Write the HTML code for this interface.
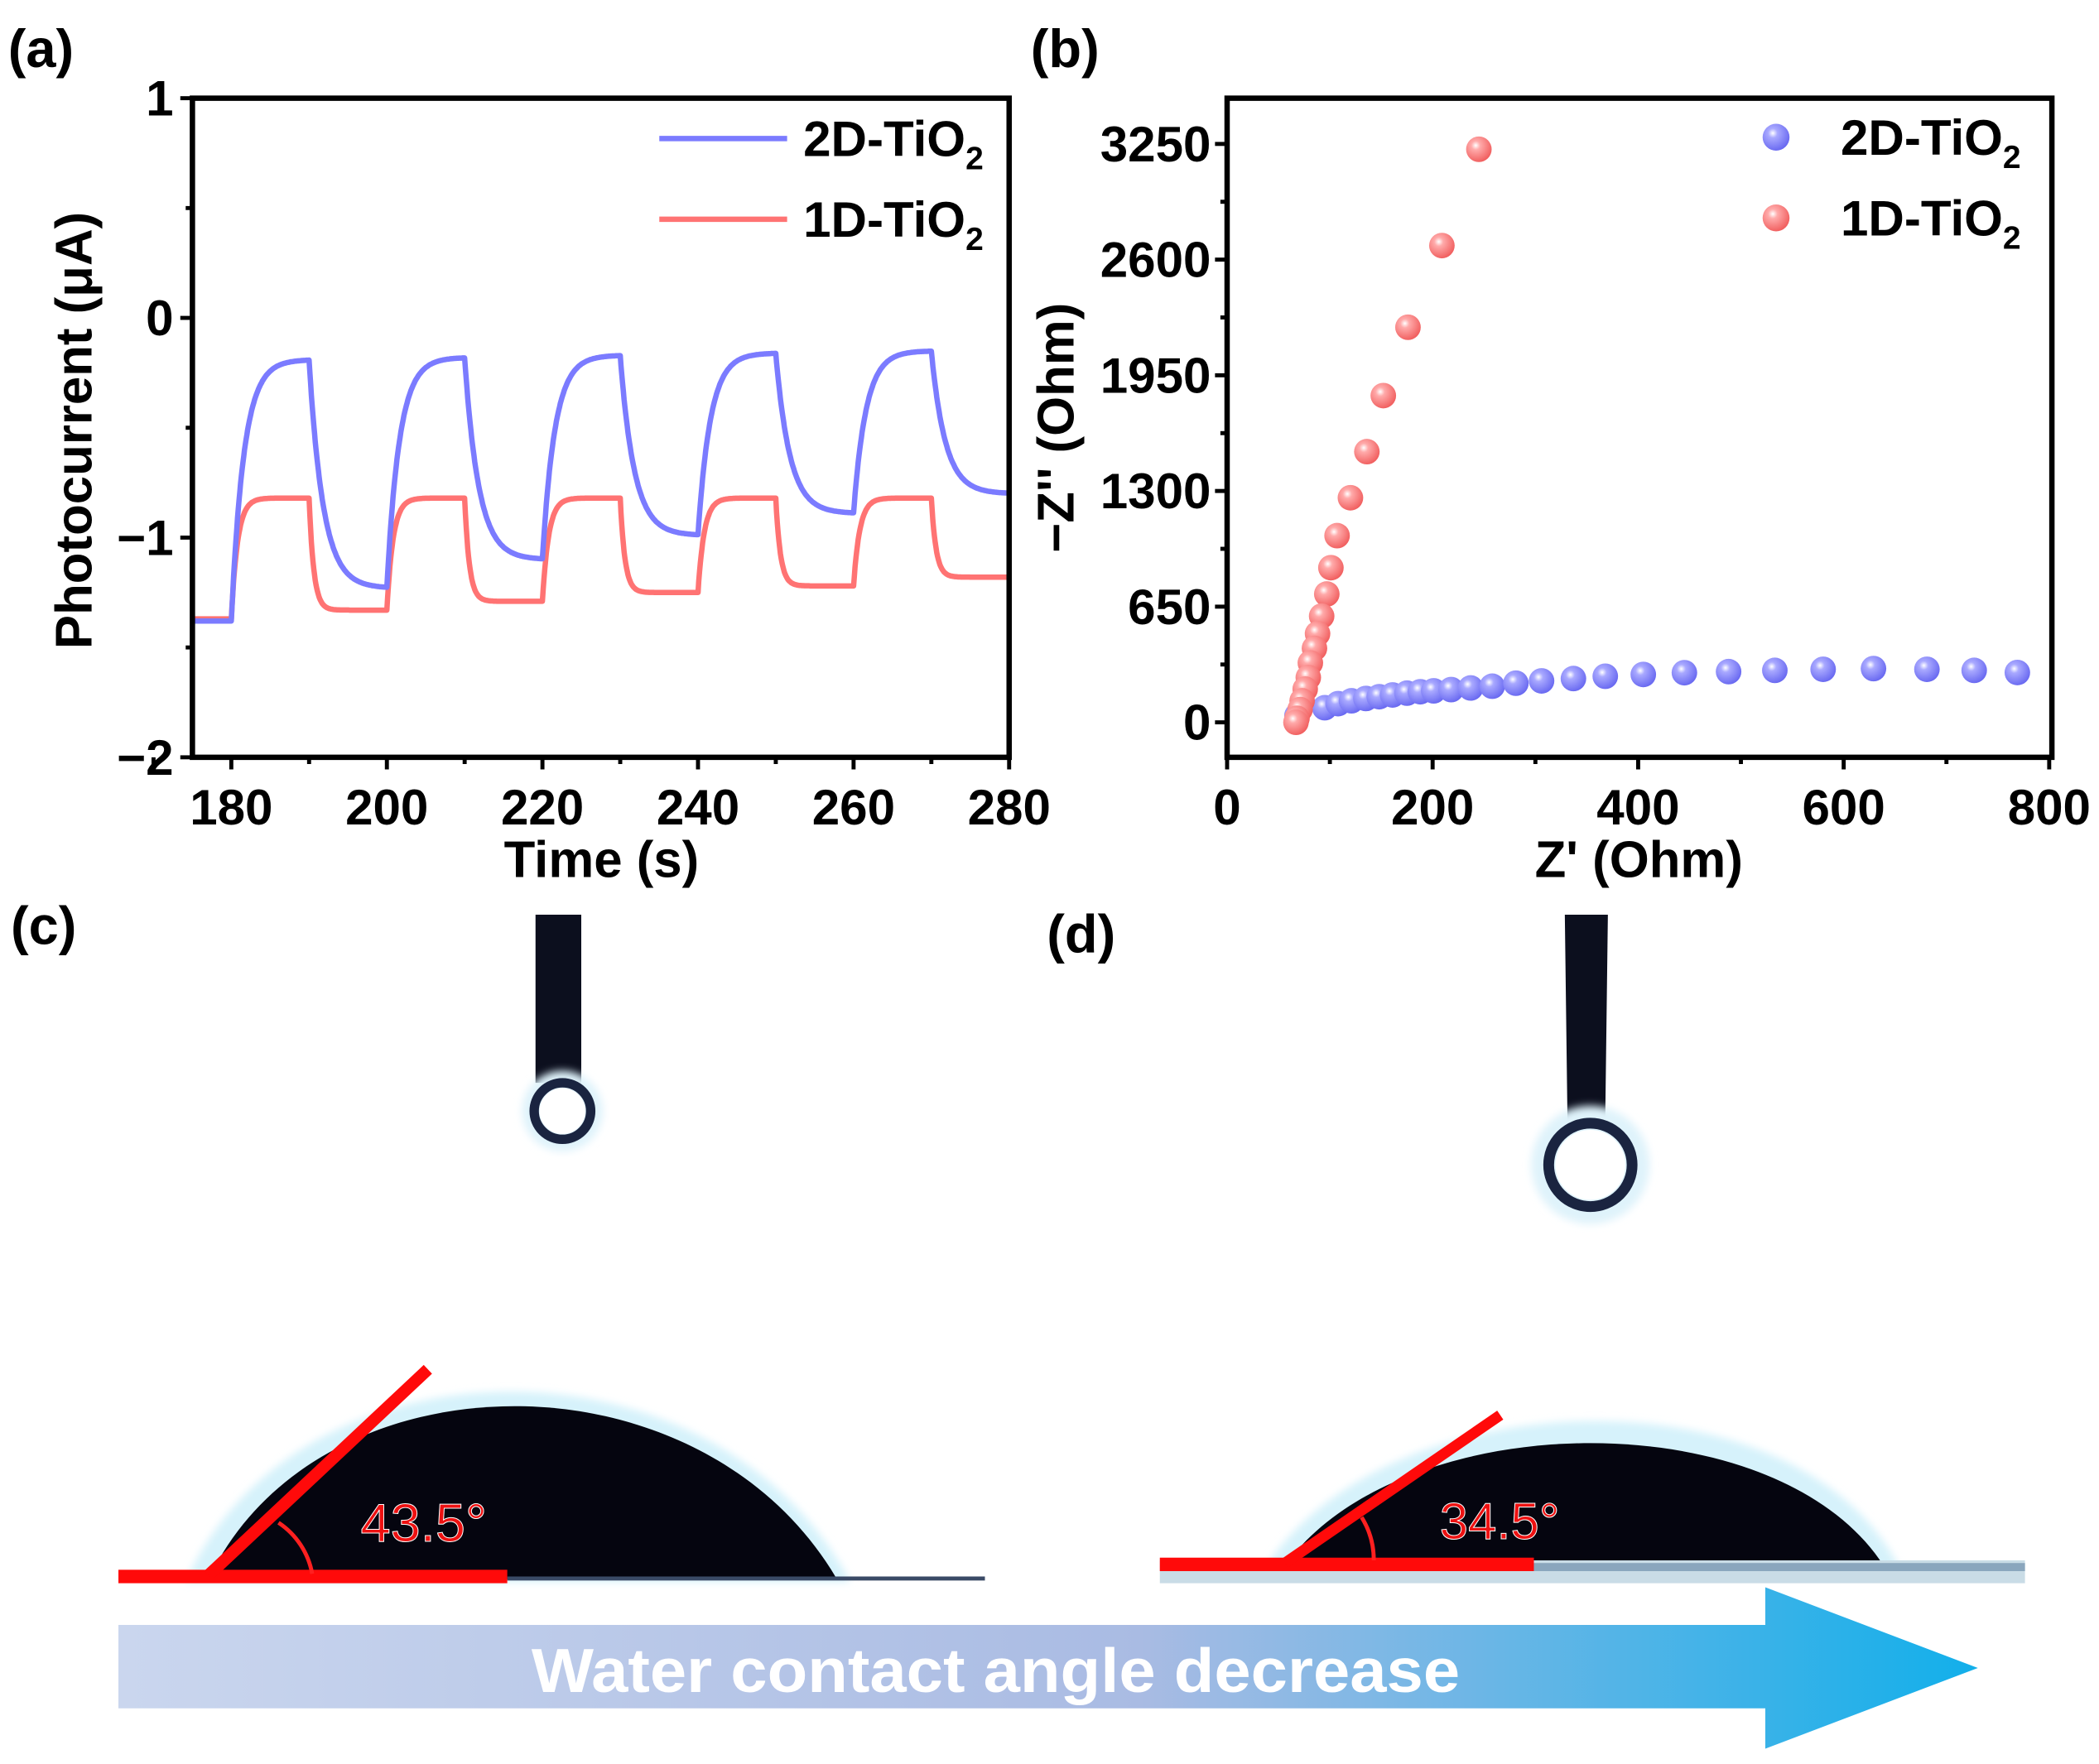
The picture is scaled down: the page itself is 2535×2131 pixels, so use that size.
<!DOCTYPE html>
<html><head><meta charset="utf-8"><style>
html,body{margin:0;padding:0;background:#fff;}
svg{display:block;font-family:"Liberation Sans",Arial,sans-serif;font-weight:bold;}
</style></head><body>
<svg id="fig" width="2535" height="2131" viewBox="0 0 1560 1311.4" xmlns="http://www.w3.org/2000/svg">
<defs>
<radialGradient id="gb" cx="0.38" cy="0.35" r="0.7"><stop offset="0" stop-color="#ffffff"/><stop offset="0.25" stop-color="#a9a9ff"/><stop offset="1" stop-color="#6565f0"/></radialGradient>
<radialGradient id="gr" cx="0.38" cy="0.35" r="0.7"><stop offset="0" stop-color="#ffffff"/><stop offset="0.25" stop-color="#ffaaaa"/><stop offset="1" stop-color="#f05a5a"/></radialGradient>
<linearGradient id="ga" x1="0" x2="1" y1="0" y2="0"><stop offset="0" stop-color="#cad6ee"/><stop offset="0.55" stop-color="#a9bbe3"/><stop offset="1" stop-color="#12afea"/></linearGradient>
<filter id="blur"><feGaussianBlur stdDeviation="3"/></filter>
</defs>

<text x="6" y="50" font-size="40">(a)</text>
<text x="766" y="50" font-size="40">(b)</text>
<text x="8" y="702" font-size="40">(c)</text>
<text x="778" y="708" font-size="40">(d)</text>

<g id="chartA"></g>
<g id="chartB"></g>

<g>
  <rect x="398" y="680" width="34" height="125" fill="#0c0f1e"/>
  <circle cx="418" cy="826" r="30" fill="#dff3fb" filter="url(#blur)"/>
  <circle cx="418" cy="826" r="21" fill="none" stroke="#1a2440" stroke-width="7"/>
  <circle cx="418" cy="826" r="17" fill="#fff"/>
  <path d="M138,1176 C220,990 530,985 632,1176 Z" fill="#d6f2fb" filter="url(#blur)"/>
  <path d="M155,1174 C235,1005 520,1000 622,1174 Z" fill="#05050f"/>
  <rect x="377" y="1172" width="355" height="3" fill="#3a4a66"/>
  <rect x="88" y="1167" width="289" height="10" fill="#ff0a0a"/>
  <line x1="155" y1="1171" x2="318" y2="1018" stroke="#ff0a0a" stroke-width="9"/>
  <path d="M207,1132 A58,58 0 0 1 232,1170" fill="none" stroke="#ff2020" stroke-width="3"/>
  <text x="268" y="1146" font-size="40" font-weight="normal" fill="#ee1111" stroke="#ffffff" stroke-width="0.6">43.5°</text>
</g>
<g>
  <path d="M1163,680 L1195,680 L1193,835 L1165,835 Z" fill="#0c0f1e"/>
  <circle cx="1182" cy="866" r="44" fill="#dff3fb" filter="url(#blur)"/>
  <circle cx="1182" cy="866" r="31" fill="none" stroke="#1a2440" stroke-width="8"/>
  <circle cx="1182" cy="866" r="26" fill="#fff"/>
  <path d="M940,1166 C1030,1025 1335,1015 1412,1166 Z" fill="#d6f2fb" filter="url(#blur)"/>
  <path d="M955,1164 C1040,1045 1320,1040 1400,1164 Z" fill="#05050f"/>
  <rect x="862" y="1160" width="643" height="17" fill="#c9dce6"/>
  <rect x="1140" y="1162" width="365" height="6" fill="#8aa6bd"/>
  <rect x="862" y="1158" width="278" height="10" fill="#ff0a0a"/>
  <line x1="955" y1="1162" x2="1115" y2="1052" stroke="#ff0a0a" stroke-width="8"/>
  <path d="M1012,1128 A60,60 0 0 1 1021,1160" fill="none" stroke="#ff2020" stroke-width="3"/>
  <text x="1070" y="1144" font-size="38" font-weight="normal" fill="#ee1111" stroke="#ffffff" stroke-width="0.6">34.5°</text>
</g>
<g>
  <path d="M88,1208 L1312,1208 L1312,1180 L1470,1240 L1312,1300 L1312,1270 L88,1270 Z" fill="url(#ga)"/>
  <text x="740" y="1258" font-size="46" fill="#ffffff" text-anchor="middle" textLength="690" lengthAdjust="spacingAndGlyphs">Water contact angle decrease</text>
</g>
</svg>
<script>
const switchTimes = [175, 180, 190, 200, 210, 220, 230, 240, 250, 260, 270, 280];
const levels2D = [-1.38, -0.19, -1.23, -0.18, -1.10, -0.17, -0.99, -0.16, -0.89, -0.15, -0.80];
const levels1D = [-1.37, -0.82, -1.33, -0.82, -1.29, -0.82, -1.25, -0.82, -1.22, -0.82, -1.18];
const tau2D = [0.1, 1.6, 1.8, 1.6, 1.8, 1.6, 1.8, 1.6, 1.8, 1.6, 1.8];
const tau1D = [0.1, 0.8, 0.6, 0.8, 0.6, 0.8, 0.6, 0.8, 0.6, 0.8, 0.6];
const xTicksA = [180, 200, 220, 240, 260, 280];
const yTicksA = [1, 0, -1, -2];
const zre2D = [68, 95, 108, 121, 135, 148, 161, 175, 188, 201, 218, 237, 258, 281, 306, 337, 368, 405, 445, 488, 533, 580, 629, 681, 727, 769];
const zim2D = [39, 82, 105, 121, 134, 144, 154, 164, 172, 177, 184, 193, 203, 220, 233, 246, 259, 269, 279, 285, 292, 298, 302, 298, 292, 280];
const zre1D = [245, 209, 176, 152, 136, 120, 107, 101, 97, 92, 88, 85, 81, 79, 76, 73, 71, 68, 67];
const zim1D = [3220, 2679, 2220, 1836, 1521, 1262, 1049, 869, 721, 597, 498, 416, 334, 252, 187, 121, 72, 23, 0];
const xTicksB = [0, 200, 400, 600, 800];
const yTicksB = [0, 650, 1300, 1950, 2600, 3250];

const NS = "http://www.w3.org/2000/svg";
function mk(parent, tag, attrs, text) {
  const e = document.createElementNS(NS, tag);
  for (const k in attrs) e.setAttribute(k, attrs[k]);
  if (text !== undefined) e.textContent = text;
  parent.appendChild(e);
  return e;
}

(function () {
  const g = document.getElementById('chartA');
  const L = 143, R = 750, T = 73, B = 563;
  const xs = v => L + (v - 175) / 105 * (R - L);
  const ys = v => T + (1 - v) / 3 * (B - T);
  function series(levels, taus) {
    let pts = [];
    let cur = levels[0];
    for (let i = 0; i < levels.length; i++) {
      const t0 = switchTimes[i], t1 = switchTimes[i + 1];
      const start = cur, target = levels[i];
      for (let t = t0; t <= t1 + 1e-9; t += 0.1) {
        const v = target + (start - target) * Math.exp(-(t - t0) / taus[i]);
        pts.push(xs(t).toFixed(1) + ',' + ys(v).toFixed(1));
        cur = v;
      }
    }
    return pts.join(' ');
  }
  const l1 = mk(g, 'polyline', { points: series(levels1D, tau1D), fill: 'none', stroke: '#ff7373', 'stroke-width': 4, 'stroke-linejoin': 'round' });
  
  
  const l2 = mk(g, 'polyline', { points: series(levels2D, tau2D), fill: 'none', stroke: '#7b7bff', 'stroke-width': 4, 'stroke-linejoin': 'round' });
  
  
  const fr = mk(g, 'rect', { x: L, y: T, width: R - L, height: B - T, fill: 'none', stroke: '#000', 'stroke-width': 4 });
  
  
  xTicksA.forEach(v => {
    mk(g, 'line', { x1: xs(v), x2: xs(v), y1: B, y2: B + 9, stroke: '#000', 'stroke-width': 3 });
    mk(g, 'line', { x1: xs(v - 10), x2: xs(v - 10), y1: B, y2: B + 5, stroke: '#000', 'stroke-width': 3 });
    const t = mk(g, 'text', { x: xs(v), y: B + 50, 'font-size': 37, 'text-anchor': 'middle' }, String(v));
    
    
  });
  yTicksA.forEach(v => {
    mk(g, 'line', { x1: L - 9, x2: L, y1: ys(v), y2: ys(v), stroke: '#000', 'stroke-width': 3 });
    if (v > -2) mk(g, 'line', { x1: L - 5, x2: L, y1: ys(v - 0.5), y2: ys(v - 0.5), stroke: '#000', 'stroke-width': 3 });
    const t = mk(g, 'text', { x: L - 14, y: ys(v) + 13, 'font-size': 37, 'text-anchor': 'end' }, v < 0 ? '\u2212' + Math.abs(v) : String(v));
    
    
  });
  const xt = mk(g, 'text', { x: 447, y: 652, 'font-size': 38, 'text-anchor': 'middle' }, 'Time (s)');
  
  
  const yt = mk(g, 'text', { x: 0, y: 0, 'font-size': 38, 'text-anchor': 'middle', transform: 'translate(68,320) rotate(-90)' }, 'Photocurrent (\u03bcA)');
  
  
  [['2D-TiO', '#7b7bff', 103], ['1D-TiO', '#ff7373', 163]].forEach(([lab, c, y]) => {
    const le = mk(g, 'g', {});
    
    
    mk(le, 'line', { x1: 490, x2: 585, y1: y, y2: y, stroke: c, 'stroke-width': 4 });
    const t = mk(le, 'text', { x: 597, y: y + 13, 'font-size': 37 }, lab);
    mk(t, 'tspan', { 'font-size': 24, dy: 10 }, '2');
  });
})();

(function () {
  const g = document.getElementById('chartB');
  const L = 912, R = 1525, T = 73, B = 563;
  const xs = v => L + v / 800 * (1523 - L);
  const ys = v => 537 - v / 3250 * (537 - 107);
  function dots(xa, ya, grad, name) {
    xa.forEach((v, i) => {
      const c = mk(g, 'circle', { cx: xs(v), cy: ys(ya[i]), r: 9.5, fill: grad });
      
      
    });
  }
  dots(zre2D, zim2D, 'url(#gb)', 'point-2d-tio2');
  dots(zre1D, zim1D, 'url(#gr)', 'point-1d-tio2');
  const fr = mk(g, 'rect', { x: L, y: T, width: R - L, height: B - T, fill: 'none', stroke: '#000', 'stroke-width': 4 });
  
  
  xTicksB.forEach(v => {
    mk(g, 'line', { x1: xs(v), x2: xs(v), y1: B, y2: B + 9, stroke: '#000', 'stroke-width': 3 });
    if (v > 0) mk(g, 'line', { x1: xs(v - 100), x2: xs(v - 100), y1: B, y2: B + 5, stroke: '#000', 'stroke-width': 3 });
    const t = mk(g, 'text', { x: xs(v), y: B + 50, 'font-size': 37, 'text-anchor': 'middle' }, String(v));
    
    
  });
  yTicksB.forEach(v => {
    mk(g, 'line', { x1: L - 9, x2: L, y1: ys(v), y2: ys(v), stroke: '#000', 'stroke-width': 3 });
    if (ys(v + 325) > T) mk(g, 'line', { x1: L - 5, x2: L, y1: ys(v + 325), y2: ys(v + 325), stroke: '#000', 'stroke-width': 3 });
    const t = mk(g, 'text', { x: L - 12, y: ys(v) + 13, 'font-size': 37, 'text-anchor': 'end' }, String(v));
    
    
  });
  const xt = mk(g, 'text', { x: 1218, y: 652, 'font-size': 38, 'text-anchor': 'middle' }, "Z' (Ohm)");
  
  
  const yt = mk(g, 'text', { x: 0, y: 0, 'font-size': 38, 'text-anchor': 'middle', transform: 'translate(798,318) rotate(-90)' }, "\u2212Z'' (Ohm)");
  
  
  [['2D-TiO', 'url(#gb)', 102], ['1D-TiO', 'url(#gr)', 162]].forEach(([lab, c, y]) => {
    const le = mk(g, 'g', {});
    
    
    mk(le, 'circle', { cx: 1320, cy: y, r: 10, fill: c });
    const t = mk(le, 'text', { x: 1368, y: y + 13, 'font-size': 37 }, lab);
    mk(t, 'tspan', { 'font-size': 24, dy: 10 }, '2');
  });
})();
</script>
</body></html>
